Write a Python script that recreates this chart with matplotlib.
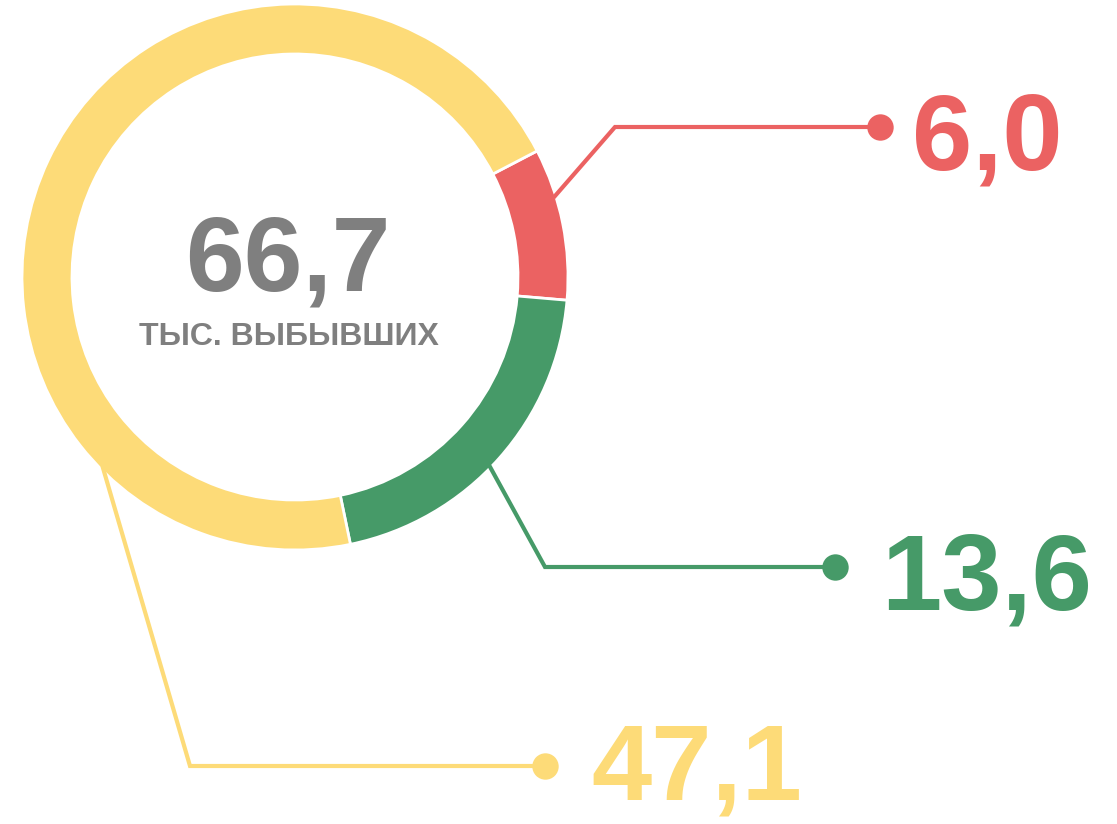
import matplotlib.pyplot as plt

# data
labels = ['6,0', '13,6', '47,1']
values = [6.0, 13.6, 47.1]
colors = ['#EB6262', '#469A68', '#FDDB78']
total_label = '66,7'
subtitle = 'ТЫС. ВЫБЫВШИХ'

W, H = 1117, 824
plt.rcParams['font.family'] = ['Liberation Sans', 'DejaVu Sans']

fig = plt.figure(figsize=(W / 100, H / 100), dpi=100)
ax = fig.add_axes([0, 0, 1, 1])

# donut, red segment starts upper right and goes clockwise
cx, cy, r = 295, H - 277, 273
ax.pie(values, colors=colors, center=(cx, cy), radius=r, startangle=27.5,
       counterclock=False, frame=True,
       wedgeprops=dict(width=50, edgecolor='white', linewidth=2))
ax.set_xlim(0, W)
ax.set_ylim(0, H)
ax.set_aspect('equal')
ax.axis('off')

# leader lines: (start, bend, end) in pixel coords from the top
leaders = [
    [(555, 196), (615, 127), (880, 127)],
    [(489, 465), (545, 567), (835, 567)],
    [(103, 468), (190, 766), (545, 766)],
]
text_pos = [(912, 169), (881, 609), (591, 800)]

for pts, c, lab, (tx, ty) in zip(leaders, colors, labels, text_pos):
    xs = [p[0] for p in pts]
    ys = [H - p[1] for p in pts]
    ax.plot(xs, ys, color=c, lw=3, solid_joinstyle='miter')
    ax.plot(xs[-1], ys[-1], 'o', color=c, markersize=19, markeredgewidth=0)
    ax.text(tx, H - ty, lab, color=c, fontsize=78, fontweight='bold',
            ha='left', va='baseline')

ax.text(288, H - 290, total_label, color='#7F7F7F', fontsize=76,
        fontweight='bold', ha='center', va='baseline')
ax.text(289, H - 345, subtitle, color='#7F7F7F', fontsize=23,
        fontweight='bold', ha='center', va='baseline')

fig.savefig('out.png', dpi=100)
